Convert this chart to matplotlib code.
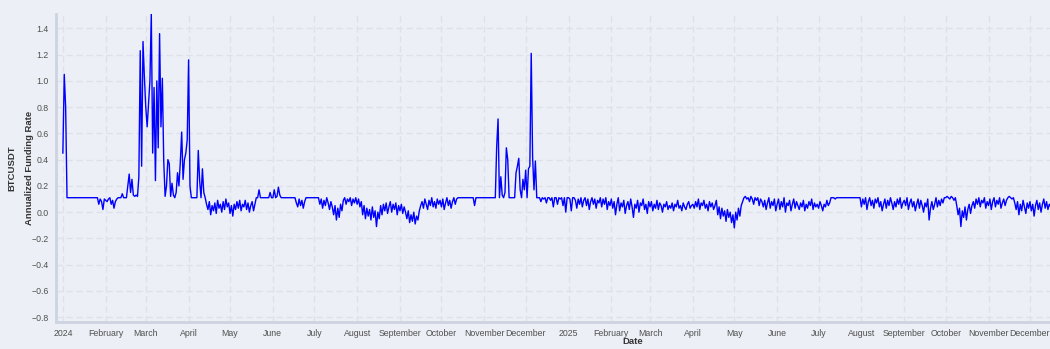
#!/usr/bin/env python3
"""
BTCUSDT annualized funding rate, Jan 2024 - Dec 2025
"""

import matplotlib
matplotlib.use("Agg")
import matplotlib.pyplot as plt
import pandas as pd

START_DATE = "2024-01-01"

# Daily annualized funding rate
jan_2024 = [0.45, 1.05, 0.80, 0.11,
            0.11, 0.11, 0.11, 0.11, 0.11, 0.11, 0.11, 0.11, 0.11, 0.11, 0.11,
            0.11, 0.11, 0.11, 0.11, 0.11, 0.11, 0.11, 0.11, 0.11, 0.11,
            0.11, 0.06, 0.10, 0.08, 0.02, 0.10]
feb_2024 = [0.09, 0.08, 0.10, 0.11, 0.06, 0.09, 0.03, 0.08, 0.10, 0.11,
            0.11, 0.11, 0.14, 0.11, 0.11, 0.11, 0.20, 0.29, 0.15, 0.25,
            0.13, 0.12, 0.13, 0.12, 0.27, 1.23, 0.35, 1.30, 1.03]
mar_2024 = [0.80, 0.65, 0.83, 1.00, 1.51, 0.45, 0.95, 0.24, 1.00, 0.49,
            1.36, 0.65, 1.02, 0.39, 0.12, 0.20, 0.40, 0.37, 0.12, 0.22,
            0.13, 0.11, 0.15, 0.30, 0.20, 0.38, 0.61, 0.25, 0.40, 0.45, 0.55]
apr_2024 = [1.16, 0.20, 0.11, 0.11, 0.11, 0.11, 0.11, 0.47, 0.24, 0.11,
            0.33, 0.15, 0.11, 0.06, 0.02, 0.08, -0.02, 0.05, 0.01, 0.07,
            -0.01, 0.09, 0.03, 0.06, 0.00, 0.08, 0.02, 0.10, 0.04, 0.07]
may_2024 = [-0.01, 0.05, -0.03, 0.06, 0.02, 0.08, 0.03, 0.09, 0.01, 0.06,
            0.04, 0.09, 0.02, 0.07, 0.00, 0.05, 0.08, 0.01, 0.06, 0.11,
            0.11, 0.17, 0.11, 0.11, 0.11, 0.11, 0.11, 0.11, 0.11, 0.15, 0.11]
jun_2024 = [0.11, 0.17, 0.11, 0.12, 0.19, 0.13, 0.11,
            0.11, 0.11, 0.11, 0.11, 0.11, 0.11, 0.11, 0.11, 0.11, 0.11,
            0.07, 0.04, 0.10, 0.05, 0.09, 0.03, 0.08,
            0.11, 0.11, 0.11, 0.11, 0.11, 0.11]
jul_2024 = [0.11, 0.11, 0.11, 0.11,
            0.06, 0.10, 0.03, 0.09, 0.05, 0.11, 0.07, 0.02, 0.08, 0.04,
            -0.02, 0.05, -0.06, 0.03, -0.04, 0.06, 0.01,
            0.09, 0.11, 0.06, 0.10, 0.08, 0.11, 0.05, 0.10, 0.07, 0.11]
aug_2024 = [0.06, 0.10, 0.04, 0.08,
            -0.02, 0.05, -0.05, 0.03, -0.03, 0.02, -0.06, 0.04, -0.04, 0.01,
            -0.11, 0.00, -0.05,
            0.05, -0.02, 0.06, 0.01, 0.07, -0.01, 0.04, 0.08, 0.00, 0.06,
            0.02, 0.07, -0.02, 0.05]
sep_2024 = [0.01, 0.06, -0.01, 0.04, 0.00,
            -0.05, 0.01, -0.08, -0.02, -0.07, 0.00, -0.09, -0.03, -0.06, 0.01,
            0.05, 0.08, 0.03, 0.10, 0.06, 0.02, 0.09, 0.05, 0.11, 0.04,
            0.08, 0.03, 0.10, 0.06, 0.09]
oct_2024 = [0.04, 0.10, 0.02, 0.07, 0.11, 0.05, 0.09, 0.03, 0.08, 0.11,
            0.06, 0.10,
            0.11, 0.11, 0.11, 0.11, 0.11, 0.11, 0.11, 0.11, 0.11, 0.11,
            0.11, 0.11, 0.05, 0.11, 0.11, 0.11, 0.11, 0.11, 0.11]
nov_2024 = [0.11, 0.11, 0.11, 0.11, 0.11, 0.11, 0.11, 0.11,
            0.11, 0.50, 0.71, 0.11, 0.27, 0.13, 0.11, 0.15, 0.49, 0.40,
            0.11, 0.11, 0.11, 0.11, 0.11, 0.30, 0.35, 0.41, 0.17, 0.11,
            0.25, 0.17]
dec_2024 = [0.32, 0.11, 0.33, 0.35, 1.21, 0.42, 0.17, 0.39, 0.11,
            0.11, 0.11, 0.08, 0.11, 0.10, 0.11, 0.07, 0.11, 0.11, 0.09,
            0.11, 0.04, 0.11, 0.11, 0.06, 0.11, 0.10, 0.11, 0.05, 0.11,
            0.00, 0.11]
jan_2025 = [0.11, 0.10, 0.01, 0.11, 0.11, 0.09, 0.03, 0.10, 0.06, 0.11,
            0.04, 0.09, 0.11, 0.05, 0.10, 0.02, 0.08, 0.11, 0.06, 0.10,
            0.03, 0.09, 0.07, 0.11, 0.04, 0.10, 0.06, 0.11, 0.02, 0.08, 0.05]
feb_2025 = [0.10, 0.03, 0.08, -0.02, 0.06, 0.11, 0.01, 0.07, 0.04, 0.09,
            -0.01, 0.05, 0.08, 0.02, 0.10, 0.04, -0.04, 0.06, 0.03, 0.09,
            0.00, 0.07, 0.05, 0.10, 0.02, 0.06, -0.01, 0.08]
mar_2025 = [0.04, 0.08, 0.01, 0.06, 0.03, 0.09, 0.02, 0.07, 0.05, 0.00,
            0.06, 0.04, 0.08, 0.02, 0.05, 0.03, 0.07, 0.01, 0.06, 0.04,
            0.09, 0.03, 0.05, 0.01, 0.07, 0.04, 0.02, 0.06, 0.08, 0.03, 0.05]
apr_2025 = [0.06, 0.03, 0.08, 0.04, 0.10, 0.02, 0.07, 0.05, 0.09, 0.03,
            0.06, 0.01, 0.08, 0.04, 0.07, 0.02, 0.05, 0.09,
            -0.02, 0.04, -0.05, 0.03, -0.03, 0.01, -0.07, 0.02, -0.04, 0.00,
            -0.08, -0.02]
may_2025 = [-0.12, 0.00, -0.06, 0.03, -0.03, 0.05, 0.08,
            0.11, 0.12, 0.10, 0.11, 0.08, 0.12, 0.10, 0.06, 0.11, 0.09,
            0.11, 0.05, 0.10, 0.08,
            0.04, 0.09, 0.02, 0.07, 0.11, 0.03, 0.08, 0.05, 0.10, 0.01]
jun_2025 = [0.06, 0.10, 0.02, 0.08, 0.04, 0.11, 0.00, 0.07, 0.05, 0.09,
            0.01, 0.06, 0.10, 0.03, 0.08, 0.05, 0.02, 0.07, 0.04, 0.09,
            0.01, 0.06, 0.03, 0.08, 0.05, 0.10, 0.02, 0.07, 0.04, 0.06]
jul_2025 = [0.03, 0.08, 0.05, 0.01, 0.06, 0.04, 0.09, 0.05, 0.07, 0.11,
            0.11, 0.11, 0.10, 0.11, 0.11, 0.11, 0.11, 0.11, 0.11, 0.11,
            0.11, 0.11, 0.11, 0.11, 0.11, 0.11, 0.11, 0.11, 0.11, 0.11, 0.11]
aug_2025 = [0.04, 0.10, 0.06, 0.11, 0.02, 0.08, 0.11, 0.05, 0.09, 0.03,
            0.10, 0.07, 0.11, 0.04, 0.08, 0.01, 0.06, 0.10, 0.03, 0.09,
            0.05, 0.11, 0.07, 0.02, 0.08, 0.04, 0.10, 0.06, 0.11, 0.03, 0.07]
sep_2025 = [0.09, 0.05, 0.11, 0.02, 0.07, 0.10, 0.04, 0.08, 0.01, 0.06,
            0.10, 0.03, 0.09, 0.05, 0.00, 0.07, 0.04, 0.10, -0.06, 0.03,
            0.08, 0.02, 0.06, 0.11, 0.04, 0.09, 0.05, 0.10, 0.07, 0.11]
oct_2025 = [0.11, 0.12, 0.11, 0.10, 0.12, 0.11, 0.09, 0.11,
            0.05, -0.02, 0.03, -0.11, 0.01, -0.04, 0.04, -0.06, 0.02, 0.06,
            -0.01, 0.05, 0.08, 0.03,
            0.10, 0.06, 0.11, 0.04, 0.09, 0.07, 0.11, 0.03, 0.08]
nov_2025 = [0.05, 0.10, 0.02, 0.08, 0.11, 0.04, 0.09, 0.06, 0.11, 0.03,
            0.07, 0.10, 0.05, 0.09, 0.11, 0.12, 0.11, 0.10, 0.11, 0.07,
            0.02, 0.08, -0.02, 0.06, 0.01, 0.09, 0.04, -0.01, 0.07, 0.03]
dec_2025 = [0.08, 0.01, 0.06, -0.03, 0.05, 0.09, 0.02, 0.07, 0.00, 0.06,
            0.10, 0.03, 0.08, 0.02, 0.06, 0.04]

month_names = ['January', 'February', 'March', 'April', 'May', 'June', 'July',
               'August', 'September', 'October', 'November', 'December']
y_ticks = [-0.8, -0.6, -0.4, -0.2, 0.0, 0.2, 0.4, 0.6, 0.8, 1.0, 1.2, 1.4]

BG = '#ECEFF5'
GRID = '#DCE1EA'
TEXT = '#505050'
LABEL = '#333333'


def build_series():
    """Concatenate the monthly lists into one daily series"""
    values = (jan_2024 + feb_2024 + mar_2024 + apr_2024 + may_2024 + jun_2024
              + jul_2024 + aug_2024 + sep_2024 + oct_2024 + nov_2024 + dec_2024
              + jan_2025 + feb_2025 + mar_2025 + apr_2025 + may_2025 + jun_2025
              + jul_2025 + aug_2025 + sep_2025 + oct_2025 + nov_2025 + dec_2025)
    dates = pd.date_range(START_DATE, periods=len(values), freq='D')
    return pd.Series(values, index=dates)


def month_ticks():
    """Month-start ticks, the year shown in place of January"""
    ticks = pd.date_range('2024-01-01', '2025-12-01', freq='MS')
    labels = [str(t.year) if t.month == 1 else month_names[t.month - 1] for t in ticks]
    return ticks, labels


def main():
    plt.rcParams['font.family'] = ['Liberation Sans', 'DejaVu Sans']
    series = build_series()

    fig = plt.figure(figsize=(10.5, 3.49), dpi=100, facecolor=BG)
    ax = fig.add_axes([0.0533, 0.0774, 0.9467, 0.8826])
    ax.set_facecolor(BG)

    ax.plot(series.index, series.values, color='#0000FF', linewidth=1.0)

    ax.set_ylim(-0.837, 1.51)
    ax.set_xlim(pd.Timestamp('2023-12-27'), pd.Timestamp('2025-12-15 12:00'))

    ticks, labels = month_ticks()
    ax.set_xticks(ticks)
    ax.set_xticklabels(labels)
    ax.set_yticks(y_ticks)
    ax.set_yticklabels([f'{v:.1f}'.replace('-', '\u2212') for v in y_ticks])
    ax.tick_params(axis='both', length=0, labelsize=6.3, colors=TEXT)
    ax.tick_params(axis='x', pad=5)
    ax.tick_params(axis='y', pad=5)

    ax.grid(True, color=GRID, linestyle=(0, (5, 3)), linewidth=0.9)
    ax.set_axisbelow(True)

    for side in ['top', 'right']:
        ax.spines[side].set_visible(False)
    for side in ['left', 'bottom']:
        ax.spines[side].set_color('#CDD4DF')
        ax.spines[side].set_linewidth(2)

    # axis titles placed where the reference shows them
    fig.text(633 / 1050, 1 - 342 / 349, 'Date', fontsize=6.8, fontweight='bold',
             color=LABEL, ha='center', va='center')
    fig.text(12 / 1050, 1 - 168 / 349, 'BTCUSDT', fontsize=6.8, fontweight='bold',
             color=LABEL, rotation=90, ha='center', va='center')
    fig.text(30 / 1050, 1 - 168 / 349, 'Annualized Funding Rate', fontsize=6.8,
             fontweight='bold', color=LABEL, rotation=90, ha='center', va='center')

    fig.savefig('out.png', dpi=100, facecolor=BG)
    print("Saved out.png")


if __name__ == "__main__":
    main()
